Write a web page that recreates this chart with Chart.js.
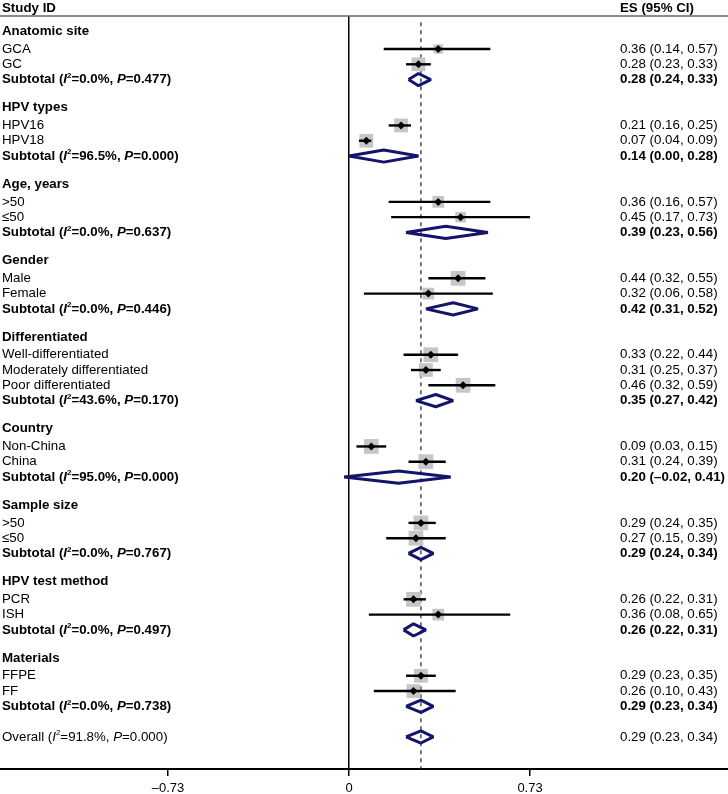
<!DOCTYPE html>
<html>
<head>
<meta charset="utf-8">
<script src="https://cdn.jsdelivr.net/npm/chart.js@4.4.1/dist/chart.umd.min.js"></script>
<style>
  html, body { margin: 0; padding: 0; background: #fff; }
  #wrap { position: relative; width: 728px; height: 794px; }
</style>
</head>
<body>
<div id="wrap"><canvas id="forest"></canvas></div>
<script>
// subgroup headings
const groupNames = ['Anatomic site', 'HPV types', 'Age, years', 'Gender', 'Differentiated',
  'Country', 'Sample size', 'HPV test method', 'Materials'];

// individual estimates
const studyNames = ['GCA', 'GC', 'HPV16', 'HPV18', '>50', '\u226450', 'Male', 'Female',
  'Well-differentiated', 'Moderately differentiated', 'Poor differentiated',
  'Non-China', 'China', '>50', '\u226450', 'PCR', 'ISH', 'FFPE', 'FF'];
const studyGroup = [0, 0, 1, 1, 2, 2, 3, 3, 4, 4, 4, 5, 5, 6, 6, 7, 7, 8, 8];
const studyES   = [0.36, 0.28, 0.21, 0.07, 0.36, 0.45, 0.44, 0.32, 0.33, 0.31, 0.46, 0.09, 0.31, 0.29, 0.27, 0.26, 0.36, 0.29, 0.26];
const studyLow  = [0.14, 0.23, 0.16, 0.04, 0.16, 0.17, 0.32, 0.06, 0.22, 0.25, 0.32, 0.03, 0.24, 0.24, 0.15, 0.22, 0.08, 0.23, 0.10];
const studyHigh = [0.57, 0.33, 0.25, 0.09, 0.57, 0.73, 0.55, 0.58, 0.44, 0.37, 0.59, 0.15, 0.39, 0.35, 0.39, 0.31, 0.65, 0.35, 0.43];
const studyWeight = [22, 47, 47, 47, 34, 28, 54, 34, 54, 47, 54, 54, 54, 54, 54, 54, 34, 47, 47];

// subtotals
const subES   = [0.28, 0.14, 0.39, 0.42, 0.35, 0.20, 0.29, 0.26, 0.29];
const subLow  = [0.24, 0.00, 0.23, 0.31, 0.27, -0.02, 0.24, 0.22, 0.23];
const subHigh = [0.33, 0.28, 0.56, 0.52, 0.42, 0.41, 0.34, 0.31, 0.34];
const subI2   = [0.0, 96.5, 0.0, 0.0, 43.6, 95.0, 0.0, 0.0, 0.0];
const subP    = [0.477, 0.000, 0.637, 0.446, 0.170, 0.000, 0.767, 0.497, 0.738];

// overall
const overallES = 0.29, overallLow = 0.23, overallHigh = 0.34;
const overallI2 = 91.8, overallP = 0.000;

const xTicks = [-0.73, 0, 0.73];

const FAMILY = '"Liberation Sans", Arial, Helvetica, sans-serif';
const NAVY = '#14146a';

// build the row layout: heading, studies, subtotal, blank ... overall
const rows = [];
groupNames.forEach((name, g) => {
  rows.push({ type: 'header', g });
  studyGroup.forEach((sg, i) => { if (sg === g) rows.push({ type: 'study', i }); });
  rows.push({ type: 'sub', g });
  rows.push({ type: 'blank' });
});
rows.push({ type: 'overall' });
rows.forEach((r, k) => { r.row = k; });

const studyRow = studyNames.map((_, i) => rows.find(r => r.type === 'study' && r.i === i).row);
const subRow = groupNames.map((_, g) => rows.find(r => r.type === 'sub' && r.g === g).row);
const overallRow = rows.find(r => r.type === 'overall').row;

const Y_MIN = -1.16, Y_MAX = 48.1;
const DH = 0.4; // diamond half height in rows

function fmt(v) {
  return (v < 0 ? '\u2013' : '') + Math.abs(v).toFixed(2);
}
function esText(e, l, h) {
  return fmt(e) + ' (' + fmt(l) + ', ' + fmt(h) + ')';
}
function statSegs(prefix, i2, p) {
  return [
    { t: prefix + ' (' }, { t: 'I', it: true }, { t: '2', sup: true },
    { t: '=' + i2.toFixed(1) + '%, ' }, { t: 'P', it: true }, { t: '=' + p.toFixed(3) + ')' }
  ];
}
function diamond(e, l, h, r) {
  return [{ x: l, y: r }, { x: e, y: r - DH }, { x: h, y: r }, { x: e, y: r + DH }, { x: l, y: r }];
}

const datasets = [];

// reference dashed line at the overall estimate
datasets.push({
  data: [{ x: overallES, y: -0.75 }, { x: overallES, y: Y_MAX }],
  showLine: true, pointRadius: 0, borderColor: '#333', borderWidth: 1.3,
  borderDash: [4, 4], order: 6
});

// weight squares
datasets.push({
  data: studyES.map((v, i) => ({ x: v, y: studyRow[i] })),
  pointStyle: 'rect',
  pointRadius: studyWeight.map(w => 1.42 * Math.sqrt(w)),
  backgroundColor: '#c6c6c6', borderWidth: 0, order: 5
});

// confidence intervals
studyES.forEach((v, i) => {
  datasets.push({
    data: [{ x: studyLow[i], y: studyRow[i] }, { x: studyHigh[i], y: studyRow[i] }],
    showLine: true, pointRadius: 0, borderColor: '#000', borderWidth: 2.4, order: 4
  });
});

// pooled diamonds
const diamondStyle = {
  showLine: true, pointRadius: 0, borderColor: NAVY, borderWidth: 3,
  borderJoinStyle: 'bevel', tension: 0, order: 3
};
subES.forEach((v, g) => {
  datasets.push(Object.assign({ data: diamond(v, subLow[g], subHigh[g], subRow[g]) }, diamondStyle));
});
datasets.push(Object.assign({ data: diamond(overallES, overallLow, overallHigh, overallRow) }, diamondStyle));

// point estimates
datasets.push({
  data: studyES.map((v, i) => ({ x: v, y: studyRow[i] })),
  pointStyle: 'rectRot', pointRadius: 4, backgroundColor: '#000', borderWidth: 0, order: 1
});

function drawRich(ctx, x, y, segs, size, bold) {
  let cx = x;
  segs.forEach(s => {
    const fs = s.sup ? size * 0.6 : size;
    ctx.font = (s.it ? 'italic ' : '') + (bold ? 'bold ' : '') + fs + 'px ' + FAMILY;
    ctx.fillText(s.t, cx, s.sup ? y - size * 0.3 : y);
    cx += ctx.measureText(s.t).width;
  });
}

const textPlugin = {
  id: 'forestText',
  afterDraw(chart) {
    const ctx = chart.ctx;
    const ys = chart.scales.y;
    const area = chart.chartArea;
    const LX = 2, RX = 620, FS = 13.3;
    ctx.save();
    ctx.fillStyle = '#000';
    ctx.textBaseline = 'middle';
    ctx.textAlign = 'left';

    // column headings and rule
    ctx.font = 'bold 13.3px ' + FAMILY;
    ctx.fillText('Study ID', LX, 8);
    ctx.fillText('ES (95% CI)', RX, 8);
    ctx.strokeStyle = '#666';
    ctx.lineWidth = 1.5;
    ctx.beginPath();
    ctx.moveTo(0, area.top);
    ctx.lineTo(chart.width, area.top);
    ctx.stroke();

    rows.forEach(r => {
      const y = ys.getPixelForValue(r.row);
      if (r.type === 'header') {
        ctx.font = 'bold 13.3px ' + FAMILY;
        ctx.fillText(groupNames[r.g], LX, y - 2.5);
      } else if (r.type === 'study') {
        ctx.font = FS + 'px ' + FAMILY;
        ctx.fillText(studyNames[r.i], LX, y);
        ctx.fillText(esText(studyES[r.i], studyLow[r.i], studyHigh[r.i]), RX, y);
      } else if (r.type === 'sub') {
        drawRich(ctx, LX, y, statSegs('Subtotal', subI2[r.g], subP[r.g]), FS, true);
        ctx.font = 'bold ' + FS + 'px ' + FAMILY;
        ctx.fillText(esText(subES[r.g], subLow[r.g], subHigh[r.g]), RX, y);
      } else if (r.type === 'overall') {
        drawRich(ctx, LX, y, statSegs('Overall', overallI2, overallP), FS, false);
        ctx.font = FS + 'px ' + FAMILY;
        ctx.fillText(esText(overallES, overallLow, overallHigh), RX, y);
      }
    });
    ctx.restore();
  }
};

new Chart(document.getElementById('forest'), {
  type: 'scatter',
  data: { datasets },
  options: {
    responsive: true,
    maintainAspectRatio: false,
    animation: false,
    layout: { autoPadding: false, padding: { top: 16, left: 0, right: 0, bottom: 0 } },
    plugins: { legend: { display: false }, tooltip: { enabled: false } },
    scales: {
      x: {
        type: 'linear',
        min: -349 / 248,
        max: 379 / 248,
        afterBuildTicks: scale => { scale.ticks = xTicks.map(v => ({ value: v })); },
        afterFit: scale => { scale.height = 25; },
        grid: {
          color: c => (c.tick && c.tick.value === 0 ? '#000' : 'rgba(0,0,0,0)'),
          lineWidth: 1.5,
          tickColor: '#000',
          tickWidth: 1.5,
          tickLength: 7,
          drawTicks: true
        },
        border: { display: true, color: '#000', width: 2 },
        ticks: {
          color: '#000',
          padding: 5,
          maxRotation: 0,
          autoSkip: false,
          font: { family: FAMILY, size: 13 },
          callback: v => (v === 0 ? '0' : fmt(v))
        }
      },
      y: {
        type: 'linear',
        reverse: true,
        min: Y_MIN,
        max: Y_MAX,
        display: false
      }
    }
  },
  plugins: [textPlugin]
});
</script>
</body>
</html>
